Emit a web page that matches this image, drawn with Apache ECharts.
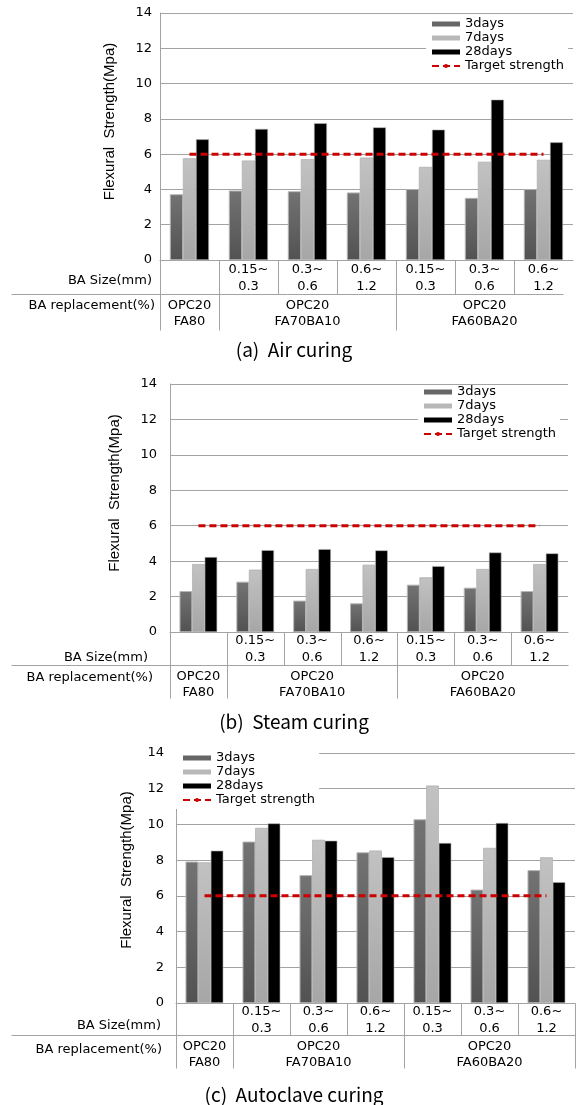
<!DOCTYPE html>
<html>
<head>
<meta charset="utf-8">
<script src="https://cdn.jsdelivr.net/npm/echarts@6/dist/echarts.min.js"></script>
<style>
  html, body { margin: 0; padding: 0; background: #fff; }
  #chart { width: 579px; height: 1105px; }
</style>
</head>
<body>
<div id="chart"></div>
<script>
// mixes, left to right
const categories = ['OPC20 FA80', 'FA70BA10 0.15~0.3', 'FA70BA10 0.3~0.6', 'FA70BA10 0.6~1.2',
  'FA60BA20 0.15~0.3', 'FA60BA20 0.3~0.6', 'FA60BA20 0.6~1.2']
const sizeLabels = ['', '0.15~\n0.3', '0.3~\n0.6', '0.6~\n1.2', '0.15~\n0.3', '0.3~\n0.6', '0.6~\n1.2']
const replacementLabels = ['OPC20\nFA80', 'OPC20\nFA70BA10', 'OPC20\nFA60BA20']
const replacementSpans = [1, 3, 3]
const seriesNames = ['3days', '7days', '28days', 'Target strength']

// (a) air curing
const airDay3 = [3.72, 3.93, 3.89, 3.82, 4.01, 3.51, 4.01]
const airDay7 = [5.76, 5.63, 5.71, 5.80, 5.27, 5.56, 5.67]
const airDay28 = [6.84, 7.43, 7.75, 7.52, 7.39, 9.09, 6.67]
// (b) steam curing
const steamDay3 = [2.30, 2.83, 1.76, 1.61, 2.66, 2.49, 2.30]
const steamDay7 = [3.83, 3.51, 3.55, 3.79, 3.08, 3.55, 3.83]
const steamDay28 = [4.23, 4.62, 4.68, 4.61, 3.72, 4.49, 4.44]
// (c) autoclave curing
const autoDay3 = [7.91, 9.03, 7.15, 8.43, 10.28, 6.34, 7.43]
const autoDay7 = [7.87, 9.80, 9.13, 8.53, 12.17, 8.68, 8.15]
const autoDay28 = [8.53, 10.06, 9.09, 8.17, 8.96, 10.08, 6.77]

const targetStrength = [6, 6, 6, 6, 6, 6, 6]
const yMin = 0
const yMax = 14
const yStep = 2

const FONT = '"DejaVu Sans", sans-serif'
const GRID_COLOR = '#a3a3a3'

const barColors = [
  new echarts.graphic.LinearGradient(0, 0, 0, 1, [
    { offset: 0, color: '#737373' }, { offset: 1, color: '#525252' }
  ]),
  new echarts.graphic.LinearGradient(0, 0, 0, 1, [
    { offset: 0, color: '#c2c2c2' }, { offset: 1, color: '#a6a6a6' }
  ]),
  '#000000'
]
const legendColors = ['#666666', '#b8b8b8', '#000000']

// layout of the three panels
const panels = [
  {
    caption: '(a)  Air curing', data: [airDay3, airDay7, airDay28],
    grid: { left: 160, top: 13, width: 413, height: 247 },
    labelMargin: 8, nameGap: 43, namePad: 30,
    legend: { left: 426, top: 15, padding: [2, 4, 2, 5] },
    sizeRow: 34, repRow: 36, sizeHead: [152, 21], repHead: [155, 12],
    hlineRight: 563, captionY: 350, rightBorder: false
  },
  {
    caption: '(b)  Steam curing', data: [steamDay3, steamDay7, steamDay28],
    grid: { left: 170, top: 384, width: 398, height: 248 },
    labelMargin: 13, nameGap: 48, namePad: 30,
    legend: { left: 418, top: 385, padding: [0, 4, 2, 5] },
    sizeRow: 33, repRow: 33, sizeHead: [148, 26], repHead: [153, 13],
    hlineRight: 568, captionY: 722, rightBorder: false
  },
  {
    caption: '(c)  Autoclave curing', data: [autoDay3, autoDay7, autoDay28],
    grid: { left: 176, top: 753, width: 399, height: 250 },
    labelMargin: 12, nameGap: 42, namePad: 16,
    legend: { left: 176, top: 749, padding: [2, 4, 2, 6] },
    sizeRow: 32, repRow: 33, sizeHead: [161, 23], repHead: [162, 15],
    hlineRight: 575, captionY: 1095, rightBorder: true
  }
]

const chart = echarts.init(document.getElementById('chart'), null, { renderer: 'canvas' })

const option = {
  animation: false,
  backgroundColor: '#fff',
  grid: panels.map((p) => ({ ...p.grid, containLabel: false })),
  legend: panels.map((p) => ({
    orient: 'vertical',
    left: p.legend.left,
    top: p.legend.top,
    padding: p.legend.padding,
    backgroundColor: '#fff',
    itemWidth: 28,
    itemHeight: 5,
    itemGap: 0,
    data: seriesNames.map((name, i) => (i < 3
      ? { name, icon: 'rect', itemStyle: { color: legendColors[i], borderWidth: 0 } }
      : { name })),
    textStyle: { fontFamily: FONT, fontSize: 13, color: '#000', lineHeight: 14 }
  })),
  xAxis: panels.map((p, i) => ({
    type: 'category',
    gridIndex: i,
    data: categories,
    axisLine: { lineStyle: { color: GRID_COLOR } },
    axisTick: { show: false },
    axisLabel: { show: false }
  })),
  yAxis: panels.map((p, i) => ({
    type: 'value',
    gridIndex: i,
    min: yMin,
    max: yMax,
    interval: yStep,
    name: 'Flexural  Strength(Mpa)',
    nameLocation: 'middle',
    nameGap: p.nameGap,
    nameTextStyle: {
      fontFamily: '"Liberation Sans", Arial, sans-serif',
      fontSize: 15,
      color: '#000',
      padding: [0, 0, 0, p.namePad]
    },
    axisLine: { show: true, lineStyle: { color: GRID_COLOR } },
    axisTick: { show: false },
    axisLabel: { margin: p.labelMargin, fontFamily: FONT, fontSize: 13, color: '#000' },
    splitLine: { lineStyle: { color: GRID_COLOR } }
  })),
  series: panels.flatMap((p, i) => [
    ...p.data.map((values, s) => ({
      name: seriesNames[s],
      type: 'bar',
      xAxisIndex: i,
      yAxisIndex: i,
      data: values,
      barGap: '0%',
      barCategoryGap: '34%',
      itemStyle: { color: barColors[s], borderColor: '#b5b5b5', borderWidth: 0.6 }
    })),
    {
      name: seriesNames[3],
      type: 'line',
      xAxisIndex: i,
      yAxisIndex: i,
      data: targetStrength,
      symbol: 'none',
      z: 5,
      itemStyle: { color: '#cc0000' },
      lineStyle: { color: '#cc0000', width: 3, type: [7, 4] }
    }
  ])
}

chart.setOption(option)

// table under each panel, placed from the category axis
function buildTable(p, i) {
  const centers = categories.map((c, k) => chart.convertToPixel({ xAxisIndex: i }, k))
  const band = centers[1] - centers[0]
  const x0 = p.grid.left
  const y0 = chart.convertToPixel({ yAxisIndex: i }, yMin)
  const yMid = y0 + p.sizeRow
  const yEnd = yMid + p.repRow
  const crisp = (v) => Math.round(v) + 0.5
  const els = []
  const line = (x1, y1, x2, y2) => els.push({
    type: 'line', silent: true,
    shape: { x1: crisp(x1), y1: crisp(y1), x2: crisp(x2), y2: crisp(y2) },
    style: { stroke: GRID_COLOR, lineWidth: 1 }
  })
  const text = (str, x, y, align, size, lh, family) => els.push({
    type: 'text', silent: true, x, y,
    style: {
      text: str, fill: '#000', align, verticalAlign: 'middle',
      font: `${size}px ${family || FONT}`, lineHeight: lh
    }
  })

  // size row
  line(x0, y0, x0, yEnd)
  centers.forEach((cx, k) => {
    if (k > 0) line(cx - band / 2, y0, cx - band / 2, yMid)
    if (sizeLabels[k]) text(sizeLabels[k], cx, y0 + p.sizeRow / 2 + 1, 'center', 13, 17)
  })
  if (p.rightBorder) line(centers[6] + band / 2, y0, centers[6] + band / 2, yEnd)
  line(11, yMid, p.hlineRight, yMid)

  // replacement row
  let start = 0
  replacementSpans.forEach((span, g) => {
    const left = centers[start] - band / 2
    const right = centers[start + span - 1] + band / 2
    if (g > 0) line(left, yMid, left, yEnd)
    text(replacementLabels[g], (left + right) / 2, yMid + 20, 'center', 13, 16)
    start += span
  })

  text('BA Size(mm)', p.sizeHead[0], y0 + p.sizeHead[1], 'right', 13, 16)
  text('BA replacement(%)', p.repHead[0], yMid + p.repHead[1], 'right', 13, 16)
  text(p.caption, 294, p.captionY, 'center', 19, 22, '"Noto Sans CJK KR", sans-serif')
  return els
}

chart.setOption({ graphic: panels.flatMap((p, i) => buildTable(p, i)) })
</script>
</body>
</html>
